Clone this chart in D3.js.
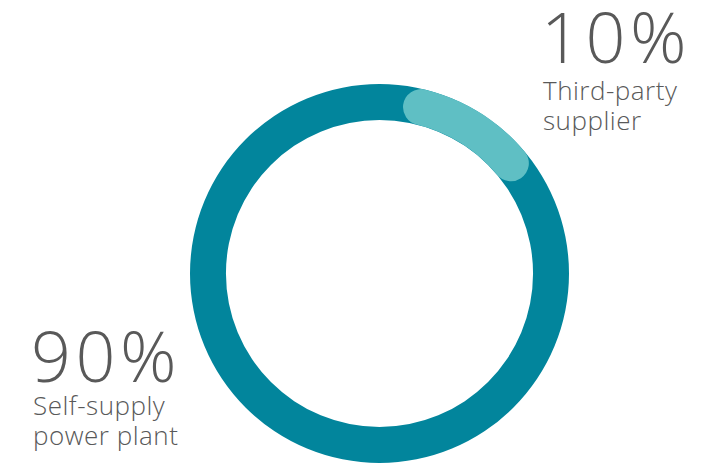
<!DOCTYPE html>
<html><head><meta charset="utf-8">
<script src="https://cdn.jsdelivr.net/npm/d3@7"></script>
<style>body{margin:0;background:#fff}svg{display:block}</style>
</head><body>
<script>
const categories = ["Self-supply power plant", "Third-party supplier"];
const values = [90, 10];
const valueLabels = ["90%", "10%"];
const labelLines = [["Self-supply", "power plant"], ["Third-party", "supplier"]];

const W = 716, H = 463;
const cx = 379.5, cy = 273.5, rOut = 189.5, rIn = 153.5;
const colors = ["#02859C", "#5FBFC4"];
const offset = 14 * Math.PI / 180;

const svg = d3.select("body").append("svg").attr("width", W).attr("height", H);
const g = svg.append("g").attr("transform", `translate(${cx},${cy})`);

const total = d3.sum(values);
const pie = d3.pie().sort(null)
  .startAngle(offset - 2 * Math.PI * values[0] / total)
  .endAngle(offset + 2 * Math.PI * values[1] / total);
const arcs = pie(values);
const arc = d3.arc().innerRadius(rIn).outerRadius(rOut);

// full base ring for the major share
g.append("path").attr("d", arc({startAngle: 0, endAngle: 2 * Math.PI})).attr("fill", colors[0]);

// minor share with rounded ends
const capA = ((rOut - rIn) / 2) / ((rOut + rIn) / 2);
const a = arcs[1];
g.append("path")
  .attr("d", d3.arc().innerRadius(rIn).outerRadius(rOut).cornerRadius((rOut - rIn) / 2)({startAngle: a.startAngle - capA, endAngle: a.endAngle + capA}))
  .attr("fill", colors[1]);

const font = "'Open Sans', sans-serif";
const pos = [{x: 31, y: 382, ly: 415}, {x: 541, y: 63, ly: 100}];
pos.forEach((p, i) => {
  svg.append("text").attr("x", p.x).attr("y", p.y).text(valueLabels[i])
    .attr("font-family", font).attr("font-weight", 300).attr("font-size", 70)
    .attr("letter-spacing", 4.5).attr("fill", "#595959");
  labelLines[i].forEach((t, j) => {
    svg.append("text").attr("x", p.x + 2).attr("y", p.ly + j * 30).text(t)
      .attr("font-family", font).attr("font-weight", 300).attr("font-size", 26)
      .attr("letter-spacing", 0.5).attr("fill", "#595959");
  });
});
</script>
</body></html>
